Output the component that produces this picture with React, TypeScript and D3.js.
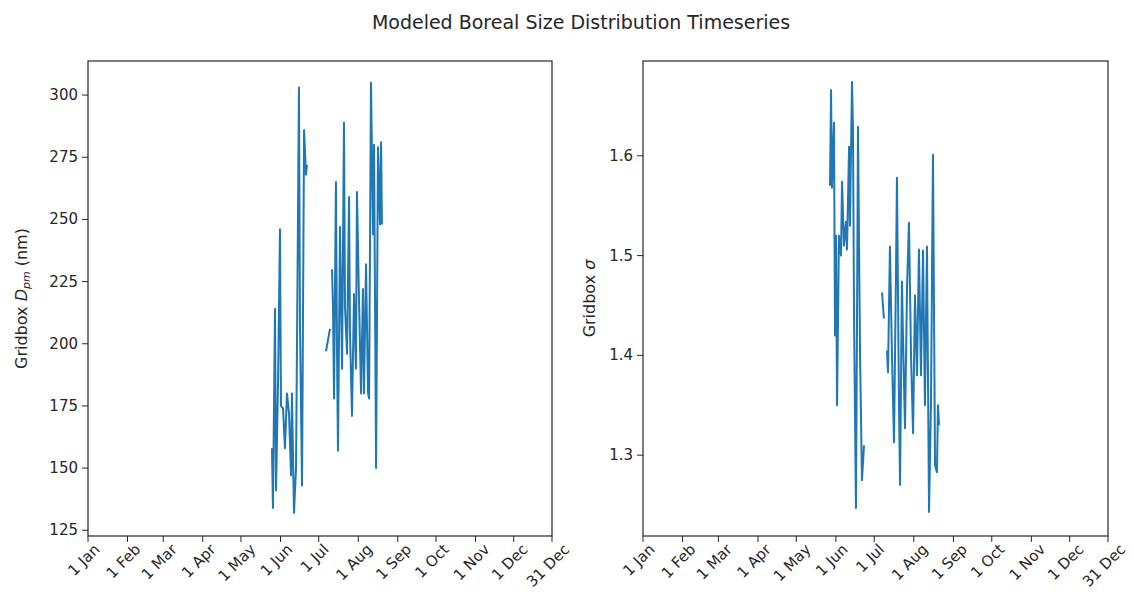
import { useRef, useEffect } from "react";
import * as d3 from "d3";

// day-of-year positions and values (null = gap in the series)
const DPM_DAYS = [
  144.3, 145.1, 146.7, 147.5, 149.1, 150.6, 151.4, 153.0, 154.5, 156.1, 157.7, 159.3, 160.0, 161.6,
  163.2, 165.5, 166.3, 167.9, 169.5, 171.0, 171.8, 179, 186.7, 189.8, 190.6, 191.4, 192.2, 193.0,
  194.5, 195.3, 196.1, 197.7, 199.3, 200.8, 201.6, 203.2, 204.8, 205.5, 207.1, 208.7, 210.2, 211.0,
  212.6, 214.2, 215.7, 216.5, 218.1, 219.7, 220.5, 222.0, 223.6, 224.4, 226.0, 227.5, 229.1, 229.9,
  230.6,
];
const DPM = [
  158, 134, 214, 141, 185, 246, 175, 174, 158, 180, 172, 147, 180, 132,
  150, 303, 207, 143, 286, 268, 272, null, 197, 206, null, 230, 215, 178,
  265, 200, 157, 247, 190, 289, 215, 196, 259, 205, 171, 220, 190, 261,
  218, 180, 222, 180, 232, 180, 178, 305, 244, 280, 150, 279, 248, 281,
  248,
];

const SIGMA_DAYS = [
  146.4, 147.2, 147.9, 149.5, 150.3, 151.1, 151.9, 153.4, 155.0, 155.8, 157.3, 158.9, 159.7, 161.3,
  162.0, 163.6, 164.4, 165.2, 166.7, 167.5, 168.3, 169.9, 171.4, 173.0, 180, 187.1, 188.6, 189.8,
  191.0, 191.8, 193.3, 194.9, 196.5, 198.0, 198.8, 200.4, 201.2, 202.7, 203.5, 205.1, 206.7, 208.2,
  209.8, 211.4, 212.9, 214.5, 216.0, 217.6, 219.2, 220.7, 222.3, 223.9, 225.4, 227.0, 228.6, 230.1,
  230.9, 231.7,
];
const SIGMA = [
  1.57, 1.666, 1.568, 1.633, 1.42, 1.52, 1.35, 1.52, 1.5, 1.574, 1.51, 1.534, 1.506, 1.609,
  1.53, 1.674, 1.626, 1.437, 1.247, 1.43, 1.629, 1.4, 1.275, 1.31, null, 1.463, 1.437, null,
  1.405, 1.383, 1.509, 1.4, 1.313, 1.48, 1.578, 1.35, 1.27, 1.474, 1.42, 1.327, 1.47, 1.533,
  1.4, 1.322, 1.46, 1.38, 1.506, 1.38, 1.505, 1.35, 1.509, 1.243, 1.35, 1.601, 1.29, 1.283,
  1.35, 1.33,
];

const MONTH_TICKS = [0, 31, 59, 90, 120, 151, 181, 212, 243, 273, 304, 334, 364];
const MONTH_LABELS = [
  "1 Jan", "1 Feb", "1 Mar", "1 Apr", "1 May", "1 Jun", "1 Jul",
  "1 Aug", "1 Sep", "1 Oct", "1 Nov", "1 Dec", "31 Dec",
];
const DPM_TICKS = [125, 150, 175, 200, 225, 250, 275, 300];
const SIGMA_TICKS = [1.3, 1.4, 1.5, 1.6];

const W = 1134;
const H = 594;
const TOP = 61;
const BOTTOM = 536;
const FONT = "DejaVu Sans, sans-serif";
const BLUE = "#1f77b4";
const INK = "#262626";
const TICK_FS = 15;

interface Panel {
  left: number;
  right: number;
  days: number[];
  values: (number | null)[];
  domain: [number, number];
  ticks: number[];
  fmt: (v: number) => string;
  labelX: number;
  label: "dpm" | "sigma";
}

const PANELS: Panel[] = [
  {
    left: 88, right: 552, days: DPM_DAYS, values: DPM, domain: [122.7, 313.7],
    ticks: DPM_TICKS, fmt: v => String(v), labelX: 27, label: "dpm",
  },
  {
    left: 643, right: 1108, days: SIGMA_DAYS, values: SIGMA, domain: [1.219, 1.695],
    ticks: SIGMA_TICKS, fmt: v => v.toFixed(1), labelX: 595, label: "sigma",
  },
];

export default function App() {
  const svgRef = useRef<SVGSVGElement>(null);

  useEffect(() => {
    if (!svgRef.current) return;
    const svg = d3.select(svgRef.current);
    svg.selectAll("*").remove();

    svg.append("rect").attr("width", W).attr("height", H).attr("fill", "#fff");

    svg.append("text")
      .attr("x", 581).attr("y", 29)
      .attr("text-anchor", "middle")
      .attr("font-family", FONT).attr("font-size", 19)
      .attr("fill", INK)
      .text("Modeled Boreal Size Distribution Timeseries");

    PANELS.forEach(p => {
      const x = d3.scaleLinear().domain([0, 364]).range([p.left, p.right]);
      const y = d3.scaleLinear().domain(p.domain).range([BOTTOM, TOP]);
      const g = svg.append("g");

      // series
      const pts = p.days.map((d, i) => ({ d, v: p.values[i] }));
      const line = d3.line<{ d: number; v: number | null }>()
        .defined(o => o.v !== null)
        .x(o => x(o.d))
        .y(o => y(o.v as number));
      g.append("path")
        .datum(pts)
        .attr("d", line)
        .attr("fill", "none")
        .attr("stroke", BLUE)
        .attr("stroke-width", 2)
        .attr("stroke-linejoin", "round");

      // frame
      g.append("rect")
        .attr("x", p.left).attr("y", TOP)
        .attr("width", p.right - p.left).attr("height", BOTTOM - TOP)
        .attr("fill", "none").attr("stroke", INK).attr("stroke-width", 1.2);

      // y ticks
      p.ticks.forEach(t => {
        g.append("line")
          .attr("x1", p.left - 6).attr("x2", p.left)
          .attr("y1", y(t)).attr("y2", y(t))
          .attr("stroke", INK);
        g.append("text")
          .attr("x", p.left - 10).attr("y", y(t))
          .attr("text-anchor", "end").attr("dominant-baseline", "central")
          .attr("font-family", FONT).attr("font-size", TICK_FS).attr("fill", INK)
          .text(p.fmt(t));
      });

      // x ticks, labels rotated 45deg and centred under the tick
      MONTH_TICKS.forEach((t, i) => {
        g.append("line")
          .attr("x1", x(t)).attr("x2", x(t))
          .attr("y1", BOTTOM).attr("y2", BOTTOM + 6)
          .attr("stroke", INK);
        const txt = g.append("text")
          .attr("text-anchor", "middle").attr("dominant-baseline", "central")
          .attr("font-family", FONT).attr("font-size", TICK_FS).attr("fill", INK)
          .text(MONTH_LABELS[i]);
        const w = (txt.node() as SVGTextElement).getComputedTextLength();
        const half = ((w + TICK_FS * 0.9) * Math.SQRT1_2) / 2;
        txt.attr("transform", `translate(${x(t) - 4},${BOTTOM + 6 + half}) rotate(-45)`);
      });

      // y label
      const lab = g.append("text")
        .attr("transform", `translate(${p.labelX},${(TOP + BOTTOM) / 2}) rotate(-90)`)
        .attr("text-anchor", "middle")
        .attr("font-family", FONT).attr("font-size", 16).attr("fill", INK);
      lab.append("tspan").text("Gridbox ");
      if (p.label === "dpm") {
        lab.append("tspan").attr("font-style", "italic").text("D");
        lab.append("tspan").attr("font-style", "italic").attr("font-size", 11)
          .attr("dy", 3).text("pm");
        lab.append("tspan").attr("dy", -3).text(" (nm)");
      } else {
        lab.append("tspan").attr("font-style", "italic").text("σ");
      }
    });
  }, []);

  return (
    <svg
      ref={svgRef}
      width={W}
      height={H}
      style={{ position: "absolute", left: 0, top: 0, display: "block" }}
    />
  );
}
